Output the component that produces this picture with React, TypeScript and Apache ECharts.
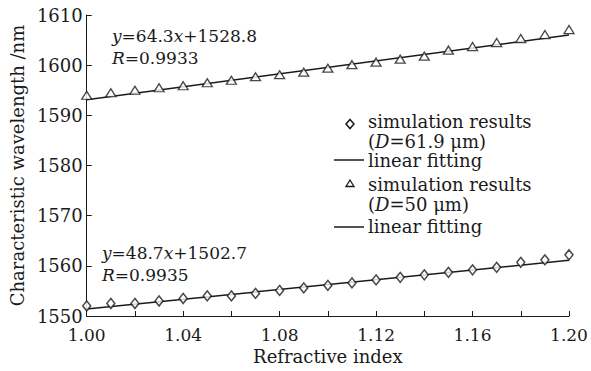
import React, { useEffect, useRef } from "react";
import * as echarts from "echarts";

const xValues = [1.0, 1.01, 1.02, 1.03, 1.04, 1.05, 1.06, 1.07, 1.08, 1.09, 1.1, 1.11, 1.12, 1.13, 1.14, 1.15, 1.16, 1.17, 1.18, 1.19, 1.2];
const simD619 = [1552.0, 1552.5, 1552.5, 1553.0, 1553.5, 1554.0, 1554.0, 1554.5, 1555.1, 1555.6, 1556.1, 1556.6, 1557.2, 1557.7, 1558.2, 1558.7, 1559.2, 1559.7, 1560.7, 1561.2, 1562.2];
const simD50 = [1594.0, 1594.5, 1595.0, 1595.5, 1595.9, 1596.5, 1597.0, 1597.7, 1598.1, 1598.6, 1599.4, 1600.1, 1600.6, 1601.2, 1601.8, 1603.0, 1603.7, 1604.5, 1605.3, 1606.1, 1607.1];
const fitD619 = [[1.0, 1551.4], [1.2, 1561.1]];
const fitD50 = [[1.0, 1593.1], [1.2, 1606.0]];
const legendLabels = ["simulation results", "(D=61.9 μm)", "linear fitting", "simulation results", "(D=50 μm)", "linear fitting"];

const FONT = "DejaVu Serif";
const INK = "#1a1a1a";

export default function App() {
  const ref = useRef<HTMLDivElement>(null);
  useEffect(() => {
    document.body.style.margin = "0";
    if (!ref.current) return;
    const chart = echarts.init(ref.current, null, { renderer: "svg" });
    const rich17 = {
      i: { fontFamily: FONT, fontStyle: "italic", fontSize: 17, color: INK },
      n: { fontFamily: FONT, fontSize: 17, color: INK },
    };
    const rich18 = {
      i: { fontFamily: FONT, fontStyle: "italic", fontSize: 18, color: INK },
      n: { fontFamily: FONT, fontSize: 18, color: INK },
    };
    const txt = (left: number, top: number, text: string, size: number, rich?: any) => ({
      type: "text",
      x: left,
      y: top,
      style: {
        text,
        fontFamily: FONT,
        fontSize: size,
        fill: INK,
        verticalAlign: "middle",
        align: "left",
        rich,
      },
    });
    chart.setOption({
      animation: false,
      backgroundColor: "#ffffff",
      grid: { left: 81, right: 22, top: 15, bottom: 55 },
      xAxis: {
        type: "value",
        min: 1.0,
        max: 1.2,
        interval: 0.04,
        name: "Refractive index",
        nameLocation: "middle",
        nameGap: 28,
        nameTextStyle: { fontFamily: FONT, fontSize: 18, color: INK },
        axisLine: { lineStyle: { color: INK, width: 1 } },
        axisTick: { inside: true, length: 5, lineStyle: { color: INK } },
        minorTick: { show: true, splitNumber: 2, length: 5, lineStyle: { color: INK } },
        splitLine: { show: false },
        axisLabel: {
          fontFamily: FONT,
          fontSize: 17,
          color: INK,
          margin: 10,
          formatter: (v: number) => v.toFixed(2),
        },
      },
      yAxis: {
        type: "value",
        min: 1550,
        max: 1610,
        interval: 10,
        name: "Characteristic wavelength /nm",
        nameLocation: "middle",
        nameGap: 57,
        nameTextStyle: { fontFamily: FONT, fontSize: 18, color: INK },
        axisLine: { show: true, lineStyle: { color: INK, width: 1 } },
        axisTick: { show: true, inside: true, length: 5, lineStyle: { color: INK } },
        splitLine: { show: false },
        axisLabel: { fontFamily: FONT, fontSize: 18, color: INK, margin: 4, formatter: (v: number) => String(v) },
      },
      series: [
        {
          name: "fit1",
          type: "line",
          data: fitD619,
          symbol: "none",
          lineStyle: { color: INK, width: 1.5 },
          z: 2,
        },
        {
          name: "sim1",
          type: "scatter",
          data: xValues.map((x, i) => [x, simD619[i]]),
          symbol: "diamond",
          symbolSize: [8, 10],
          itemStyle: { color: "#ffffff", borderColor: INK, borderWidth: 1.5 },
          z: 3,
        },
        {
          name: "fit2",
          type: "line",
          data: fitD50,
          symbol: "none",
          lineStyle: { color: INK, width: 1.5 },
          z: 2,
        },
        {
          name: "sim2",
          type: "scatter",
          data: xValues.map((x, i) => [x, simD50[i]]),
          symbol: "triangle",
          symbolSize: [10, 8],
          itemStyle: { color: "#ffffff", borderColor: INK, borderWidth: 1.3 },
          z: 3,
        },
      ],
      graphic: [
        txt(112, 36, "{i|y}{n|=64.3}{i|x}{n|+1528.8}", 17, rich17),
        txt(112, 58, "{i|R}{n|=0.9933}", 17, rich17),
        txt(102, 253, "{i|y}{n|=48.7}{i|x}{n|+1502.7}", 17, rich17),
        txt(102, 275, "{i|R}{n|=0.9935}", 17, rich17),
        {
          type: "polygon",
          shape: { points: [[350, 119.5], [354, 124], [350, 128.5], [346, 124]] },
          style: { fill: "#fff", stroke: INK, lineWidth: 1.5 },
        },
        txt(368, 121, legendLabels[0], 18),
        txt(368, 141, "({i|D}{n|=61.9 μm)}", 18, rich18),
        { type: "line", shape: { x1: 334, y1: 160, x2: 364, y2: 160 }, style: { stroke: INK, lineWidth: 1.5 } },
        txt(368, 160, legendLabels[2], 18),
        {
          type: "polygon",
          shape: { points: [[350, 180], [354, 186.5], [346, 186.5]] },
          style: { fill: "#fff", stroke: INK, lineWidth: 1.3 },
        },
        txt(368, 184, legendLabels[3], 18),
        txt(368, 204, "({i|D}{n|=50 μm)}", 18, rich18),
        { type: "line", shape: { x1: 334, y1: 227, x2: 364, y2: 227 }, style: { stroke: INK, lineWidth: 1.5 } },
        txt(368, 226, legendLabels[5], 18),
      ],
    });
    return () => chart.dispose();
  }, []);
  return <div ref={ref} style={{ width: 591, height: 371 }} />;
}
